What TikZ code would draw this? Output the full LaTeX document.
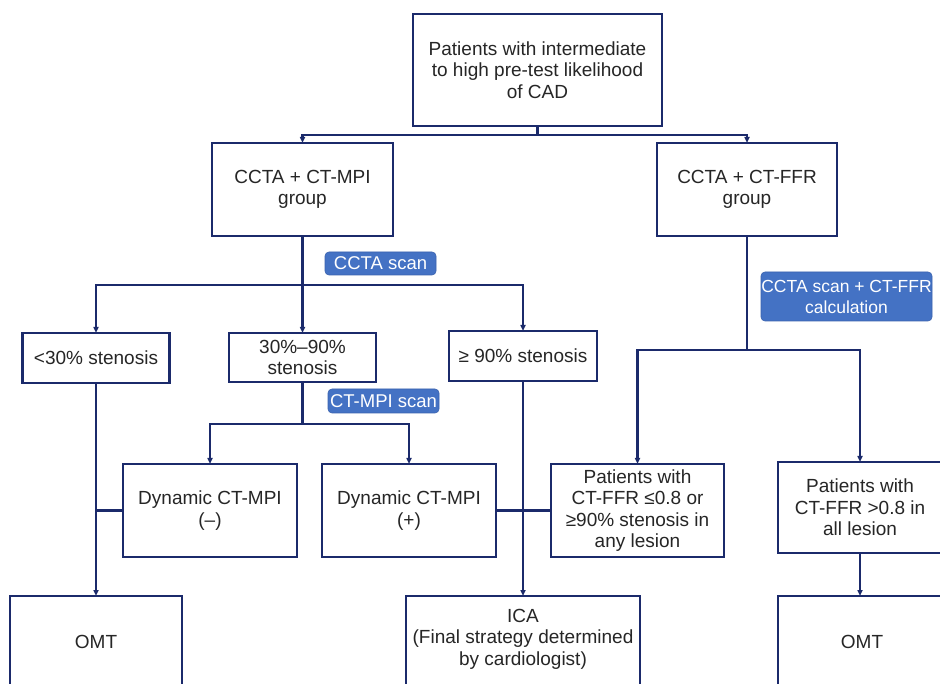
\documentclass[tikz,border=0pt]{standalone}
\usepackage{fontspec}
\setmainfont{Liberation Sans}
\usetikzlibrary{arrows.meta,calc}
\definecolor{navy}{HTML}{1B2A6B}
\definecolor{lblue}{HTML}{4472C4}
\definecolor{lblueb}{HTML}{3A62AE}
\definecolor{txt}{HTML}{262626}
\begin{document}
\begin{tikzpicture}[x=1pt,y=-1pt,
  lbl/.style={text=txt,font=\fontsize{19}{21.5}\selectfont,align=center,inner sep=0pt},
  box/.style={draw=navy,line width=2.1pt,fill=white,align=center,text=txt,
    font=\fontsize{19}{21.5}\selectfont,inner sep=0pt,outer sep=0pt},
  tag/.style={draw=lblueb,line width=0.6pt,fill=lblue,rounded corners=4pt,align=center,
    text=white,font=\fontsize{18.5}{21}\selectfont,inner sep=0pt,outer sep=0pt},
  link/.style={draw=navy,line width=2.1pt},
  arr/.style={link,-{Triangle[length=6pt,width=5pt]}}]
\clip (0,0) rectangle (940,684);
\fill[white] (0,0) rectangle (940,684);
% boxes
\node[box,minimum width=249pt,minimum height=112pt] (top) at (537.5,70) {Patients with intermediate\\to high pre-test likelihood\\of CAD};
\node[box,minimum width=181pt,minimum height=93pt] (g1) at (302.5,189.5) {CCTA + CT-MPI\\group};
\node[box,minimum width=180pt,minimum height=93pt] (g2) at (747,189.5) {CCTA + CT-FFR\\group};
\node[box,minimum width=147pt,minimum height=50pt] (s1) at (96,358) {\textless30\% stenosis};
\node[box,minimum width=147pt,minimum height=49pt] (s2) at (302.5,357.5) {30\%–90\%\\stenosis};
\node[box,minimum width=148pt,minimum height=50pt] (s3) at (523,356) {≥ 90\% stenosis};
\node[box,minimum width=174pt,minimum height=93pt] (dm) at (210,510.5) {Dynamic CT-MPI\\(–)};
\node[box,minimum width=174pt,minimum height=93pt] (dp) at (409,510.5) {Dynamic CT-MPI\\(+)};
\node[box,minimum width=173pt,minimum height=93pt] (ffr) at (637.5,510.5) {Patients with\\CT-FFR ≤0.8 or\\≥90\% stenosis in\\any lesion};
\node[box,minimum width=164pt,minimum height=91pt] (ffn) at (860,507.5) {Patients with\\CT-FFR \textgreater0.8 in\\all lesion};
\node[box,minimum width=172pt,minimum height=140pt] (omt1) at (96,666) {};
\node[lbl] (omt1t) at (96,642) {OMT};
\node[box,minimum width=234pt,minimum height=140pt] (ica) at (523,666) {};
\node[lbl] (icat) at (523,639) {ICA\\(Final strategy determined\\by cardiologist)};
\node[box,minimum width=164pt,minimum height=140pt] (omt2) at (860,666) {};
\node[lbl] (omt2t) at (862,642) {OMT};
% connectors
\coordinate (j1) at (537.5,135);
\draw[link] (top.south) -- (j1);
\draw[arr] (j1) -| (g1.north);
\draw[arr] (j1) -| (g2.north);
\coordinate (j2) at (302.5,285);
\draw[link] (g1.south) -- (j2);
\draw[arr] (j2) -| (s1.north);
\draw[arr] (j2) -- (s2.north);
\draw[arr] (j2) -| (s3.north);
\coordinate (j3) at (302.5,424);
\draw[link] (s2.south) -- (j3);
\draw[arr] (j3) -| (dm.north);
\draw[arr] (j3) -| (dp.north);
\coordinate (j4) at (747,350);
\draw[link] (g2.south) -- (j4);
\draw[arr] (j4) -| (ffr.north);
\draw[arr] (j4) -| (ffn.north);
\draw[arr] (s1.south) -- (omt1.north);
\draw[arr] (s3.south) -- (ica.north);
\draw[arr] (ffn.south) -- (ffn.south |- omt2.north);
\draw[link] (dm.west) -- (dm.west -| s1.south);
\draw[link] (dp.east) -- (ffr.west);
% tags
\node[tag,minimum width=111pt,minimum height=23pt] (t1) at (380.5,263.5) {CCTA scan};
\node[tag,minimum width=111pt,minimum height=24pt] (t2) at (383.5,401) {CT-MPI scan};
\node[tag,minimum width=171pt,minimum height=49pt,font=\fontsize{17.5}{21}\selectfont] (t3) at (846.5,296.5) {CCTA scan + CT-FFR\\calculation};
\end{tikzpicture}
\end{document}
